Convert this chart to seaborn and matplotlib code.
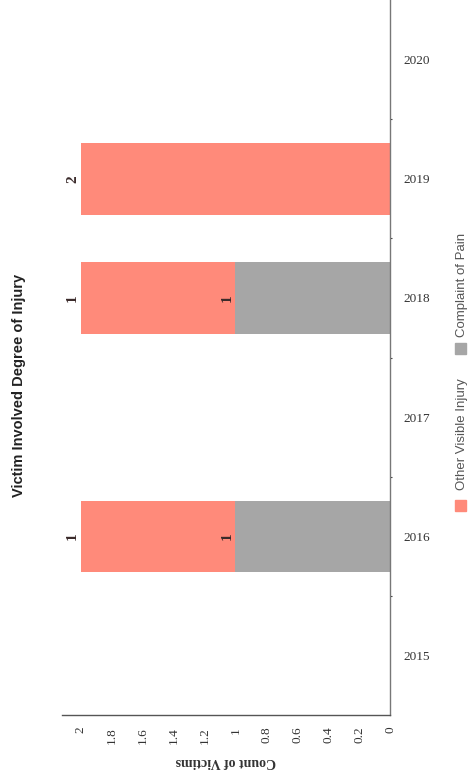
import numpy as np
import pandas as pd
import seaborn as sns
import matplotlib.pyplot as plt
from matplotlib.patches import Rectangle

# data
years = ['2015', '2016', '2017', '2018', '2019', '2020']
complaint_of_pain = [0, 1, 0, 1, 0, 0]
other_visible_injury = [0, 1, 0, 1, 2, 0]
value_ticks = [0, 0.2, 0.4, 0.6, 0.8, 1, 1.2, 1.4, 1.6, 1.8, 2]

salmon = '#FF8A7A'
grey = '#A6A6A6'

df = pd.DataFrame({'Year': years,
                   'Complaint of Pain': complaint_of_pain,
                   'Other Visible Injury': other_visible_injury})
df['Total'] = df['Complaint of Pain'] + df['Other Visible Injury']

sns.set_style('white')
plt.rcParams['font.family'] = ['Liberation Sans', 'DejaVu Sans']

W, H = 469, 778
fig = plt.figure(figsize=(W / 100, H / 100), dpi=100)
ax = fig.add_axes([62 / W, 1 - 715 / H, (390 - 62) / W, 715 / H])

order = years[::-1]
# stacked bars: total first, then the first segment on top
sns.barplot(data=df, x='Total', y='Year', order=order, orient='h', color=salmon,
            saturation=1, width=0.6, linewidth=0, errorbar=None, ax=ax)
sns.barplot(data=df, x='Complaint of Pain', y='Year', order=order, orient='h', color=grey,
            saturation=1, width=0.6, linewidth=0, errorbar=None, ax=ax)

# segment labels
for _, row in df.iterrows():
    pos = order.index(row['Year'])
    cum = 0
    for col in ['Complaint of Pain', 'Other Visible Injury']:
        v = row[col]
        if v > 0:
            cum += v
            ax.annotate(str(v), xy=(cum, pos), xytext=(-8, 0), textcoords='offset pixels',
                        rotation=90, ha='center', va='center', fontsize=11,
                        fontweight='bold', color='#3a2a2a', family='Liberation Serif')

ax.set_xlim(2.12, 0)
ax.set_ylim(5.5, -0.5)
ax.set_xlabel('')
ax.set_ylabel('')

ax.set_xticks(value_ticks)
ax.set_xticklabels([f'{t:g}' for t in value_ticks], rotation=90, family='Liberation Serif',
                   fontsize=9.5, color='#333333', va='top', ha='center')
ax.tick_params(axis='x', length=1.5, width=0.8, pad=7, color='#444444', direction='out')

ax.yaxis.tick_right()
ax.set_yticks(range(len(order)))
ax.set_yticklabels(order, family='Liberation Serif', fontsize=9.5, color='#333333', ha='left')
ax.set_yticks(np.arange(0.5, len(order) - 1, 1), minor=True)
ax.tick_params(axis='y', which='major', length=0, pad=10)
ax.tick_params(axis='y', which='minor', length=1.5, width=0.8, color='#444444', right=True, left=False)

for s in ['left', 'top']:
    ax.spines[s].set_visible(False)
ax.spines['right'].set_color('#777777')
ax.spines['bottom'].set_color('#555555')
ax.spines['right'].set_linewidth(1)
ax.spines['bottom'].set_linewidth(1)

fig.text(19 / W, 1 - 385 / H, 'Victim Involved Degree of Injury', rotation=90,
         ha='center', va='center', fontsize=10.5, fontweight='bold', color='#222222')
fig.text(226 / W, 1 - 762 / H, 'Count of Victims', rotation=180, ha='center', va='center',
         fontsize=10, fontweight='bold', family='Liberation Serif', color='#333333')

# legend
for name, col, y_sq, y_txt in [('Other Visible Injury', salmon, 511, 490),
                                ('Complaint of Pain', grey, 354, 337)]:
    fig.patches.append(Rectangle((455 / W, 1 - y_sq / H), 11 / W, 11 / H,
                                 transform=fig.transFigure, color=col))
    fig.text(462 / W, 1 - y_txt / H, name, rotation=90, ha='center', va='bottom',
             fontsize=9.5, color='#555555')

fig.savefig('out.png', dpi=100)
